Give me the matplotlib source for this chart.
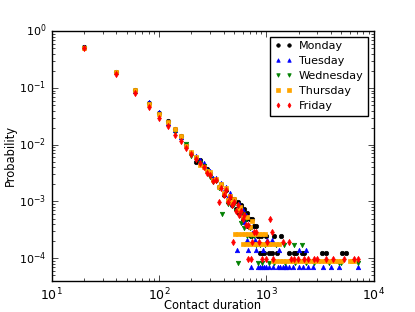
import matplotlib
matplotlib.use("Agg")
import matplotlib.pyplot as plt

# contact duration (s) and probability, one pair of lists per day
mon_dur = [20, 40, 60, 80, 100, 120, 140, 160, 180, 200, 220, 240, 260, 280, 300, 320, 340, 360, 380, 400,
           420, 440, 460, 480, 500, 520, 540, 560, 580, 600, 620, 640, 660, 680, 700, 720, 740, 760, 800, 840,
           880, 900, 920, 960, 1000, 1060, 1120, 1180, 1260, 1370, 1640, 1820, 1900, 2150, 2250, 3340, 3600,
           5100, 5500]
mon_p = [0.53, 0.19, 0.092, 0.054, 0.036, 0.026, 0.019, 0.0142, 0.0098, 0.0071, 0.0050, 0.0054, 0.0043, 0.0037,
         0.0032, 0.0025, 0.0024, 0.0018, 0.0020, 0.0013, 0.0016, 0.00098, 0.0012, 0.00086, 0.0011, 0.00074,
         0.00098, 0.00062, 0.00086, 0.00049, 0.00074, 0.00049, 0.00062, 0.00037, 0.00049, 0.00025, 0.00049,
         0.00037, 0.00037, 0.00025, 0.000123, 0.00025, 0.000123, 0.000123, 0.00025, 0.000123, 0.000123,
         0.00025, 0.000123, 0.00025, 0.000123, 0.000123, 0.000123, 0.000123, 0.000123, 0.000123, 0.000123,
         0.000123, 0.000123]

tue_dur = [20, 40, 60, 80, 100, 120, 140, 160, 180, 200, 220, 240, 260, 280, 300, 320, 340, 360, 380, 400,
           420, 440, 460, 480, 500, 530, 540, 560, 580, 600, 620, 640, 660, 680, 700, 720, 740, 780, 800, 830,
           870, 910, 940, 960, 1000, 1020, 1060, 1130, 1150, 1280, 1320, 1340, 1420, 1480, 1540, 1640, 1780,
           2000, 2040, 2180, 2340, 2440, 2700, 3360, 4000, 4800, 7100]
tue_p = [0.52, 0.19, 0.09, 0.056, 0.037, 0.024, 0.018, 0.0135, 0.0098, 0.0074, 0.0062, 0.0053, 0.0047, 0.0036,
         0.0034, 0.0026, 0.0026, 0.0019, 0.0021, 0.0015, 0.0018, 0.0012, 0.0014, 0.00092, 0.0011, 0.000142,
         0.00078, 0.00092, 0.00057, 0.00071, 0.00043, 0.00057, 0.000213, 0.000142, 0.00036, 0.000071, 0.00028,
         0.000213, 0.000142, 0.000071, 0.000071, 0.000071, 0.000142, 0.000071, 0.000071, 0.000213, 0.000071,
         0.000213, 0.000071, 0.000071, 0.000142, 0.000071, 0.000071, 0.000071, 0.000071, 0.000071, 0.000071,
         0.000071, 0.000142, 0.000071, 0.000142, 0.000071, 0.000071, 0.000071, 0.000071, 0.000071, 0.000071]

wed_dur = [20, 40, 60, 80, 100, 120, 140, 160, 180, 200, 220, 240, 260, 280, 300, 320, 340, 360, 380, 390,
           400, 420, 440, 460, 480, 500, 520, 540, 560, 580, 600, 620, 640, 660, 700, 720, 760, 800, 840, 880,
           920, 980, 1060, 1170, 1240, 1460, 1500, 1800, 1840, 2150, 2350, 2770, 3850, 4790, 5000, 7100]
wed_p = [0.51, 0.18, 0.088, 0.05, 0.033, 0.023, 0.017, 0.013, 0.0102, 0.0064, 0.0058, 0.0047, 0.0043, 0.0034,
         0.0027, 0.0022, 0.0023, 0.0017, 0.0019, 0.00059, 0.0013, 0.0015, 0.00092, 0.0012, 0.00084, 0.00092,
         0.00067, 0.000084, 0.00076, 0.00042, 0.00059, 0.00034, 0.0005, 0.00025, 0.00034, 0.00025, 0.00025,
         0.000168, 0.000084, 0.000168, 0.000084, 0.000168, 0.000084, 0.000084, 0.000168, 0.000168, 0.000084,
         0.000168, 0.000084, 0.000168, 0.000084, 0.000084, 0.000084, 0.000084, 0.000084, 0.000084]

thu_dur = [20, 40, 60, 80, 100, 120, 140, 160, 180, 200, 220, 240, 260, 280, 300, 320, 340, 360, 380, 400,
           420, 440, 460, 480, 500, 540, 570, 600, 660, 700, 740,
           510, 550, 590, 630, 680, 730, 790, 850, 910, 980,
           610, 650, 710, 750, 810, 870, 930, 990, 1060, 1140, 1230, 1310,
           1150, 1240, 1330, 1430, 1540, 1660, 1790, 1930, 2080, 2240, 2410, 2600, 2800, 3020, 3250, 3500,
           3770, 4060, 4370, 4700, 4950, 6100, 6300, 6600]
thu_p = [0.51, 0.19, 0.092, 0.052, 0.035, 0.025, 0.019, 0.014, 0.0093, 0.0073, 0.0060, 0.0044, 0.0040, 0.0034,
         0.0033, 0.0024, 0.0025, 0.0018, 0.0020, 0.0014, 0.0017, 0.00108, 0.00126, 0.00099, 0.0011, 0.00072,
         0.00081, 0.00054, 0.00054, 0.00036, 0.00045,
         0.00027, 0.00027, 0.00027, 0.00027, 0.00027, 0.00027, 0.00027, 0.00027, 0.00027, 0.00027,
         0.00018, 0.00018, 0.00018, 0.00018, 0.00018, 0.00018, 0.00018, 0.00018, 0.00018, 0.00018, 0.00018,
         0.00018,
         0.00009, 0.00009, 0.00009, 0.00009, 0.00009, 0.00009, 0.00009, 0.00009, 0.00009, 0.00009, 0.00009,
         0.00009, 0.00009, 0.00009, 0.00009, 0.00009, 0.00009, 0.00009, 0.00009, 0.00009, 0.00009, 0.00009,
         0.00009, 0.00009]

fri_dur = [20, 40, 60, 80, 100, 120, 140, 160, 180, 200, 220, 240, 260, 280, 300, 320, 340, 360, 380, 400,
           420, 440, 460, 480, 490, 500, 520, 540, 560, 580, 600, 620, 640, 670, 680, 720, 740, 760, 800, 860,
           920, 990, 1020, 1080, 1130, 1160, 1420, 1640, 1700, 1830, 1960, 2260, 2430, 2810, 3000, 3600, 4170,
           5360, 6640, 7130]
fri_p = [0.50, 0.175, 0.082, 0.046, 0.030, 0.021, 0.015, 0.0115, 0.0088, 0.0069, 0.0055, 0.0047, 0.0040, 0.0032,
         0.0029, 0.0023, 0.0024, 0.00097, 0.0017, 0.0013, 0.0016, 0.00097, 0.0012, 0.00087, 0.000194, 0.00097,
         0.00068, 0.00087, 0.00058, 0.00068, 0.00049, 0.00058, 0.00039, 0.000097, 0.00039, 0.000097, 0.000194,
         0.00029, 0.00029, 0.000194, 0.000097, 0.000097, 0.000194, 0.000485, 0.00029, 0.000097, 0.000194,
         0.000194, 0.000097, 0.000097, 0.000097, 0.000097, 0.000097, 0.000097, 0.000097, 0.000097, 0.000097,
         0.000097, 0.000097, 0.000097]

days = ["Monday", "Tuesday", "Wednesday", "Thursday", "Friday"]

plt.style.use("classic")
plt.rcParams["mathtext.fontset"] = "dejavusans"
plt.rcParams["xtick.labelsize"] = 9
plt.rcParams["ytick.labelsize"] = 8

fig = plt.figure(figsize=(4.15, 3.12), dpi=100, facecolor="white")
ax = fig.add_subplot(111)

series = [(mon_dur, mon_p, "k", "o"), (tue_dur, tue_p, "b", "^"), (wed_dur, wed_p, "g", "v"),
          (thu_dur, thu_p, "orange", "s"), (fri_dur, fri_p, "r", "d")]
for (d, p, c, m), name in zip(series, days):
    ax.plot(d, p, linestyle="none", marker=m, color=c, markeredgecolor=c,
            markersize=3.2, label=name)

ax.set_xscale("log")
ax.set_yscale("log")
ax.set_xlim(10, 10000)
ax.set_ylim(4e-5, 1)
ax.set_xlabel("Contact duration", fontsize=8.3)
ax.xaxis.set_label_coords(0.5, -0.072)
ax.set_ylabel("Probability", fontsize=8.3)
ax.yaxis.set_label_coords(-0.108, 0.5)
ax.legend(loc="upper right", numpoints=2, fontsize=8, markerscale=0.8,
          handlelength=1.6, handletextpad=0.6, borderpad=0.4, borderaxespad=0.5,
          labelspacing=0.45, frameon=True)

fig.savefig("out.png", dpi=100, facecolor="white")
